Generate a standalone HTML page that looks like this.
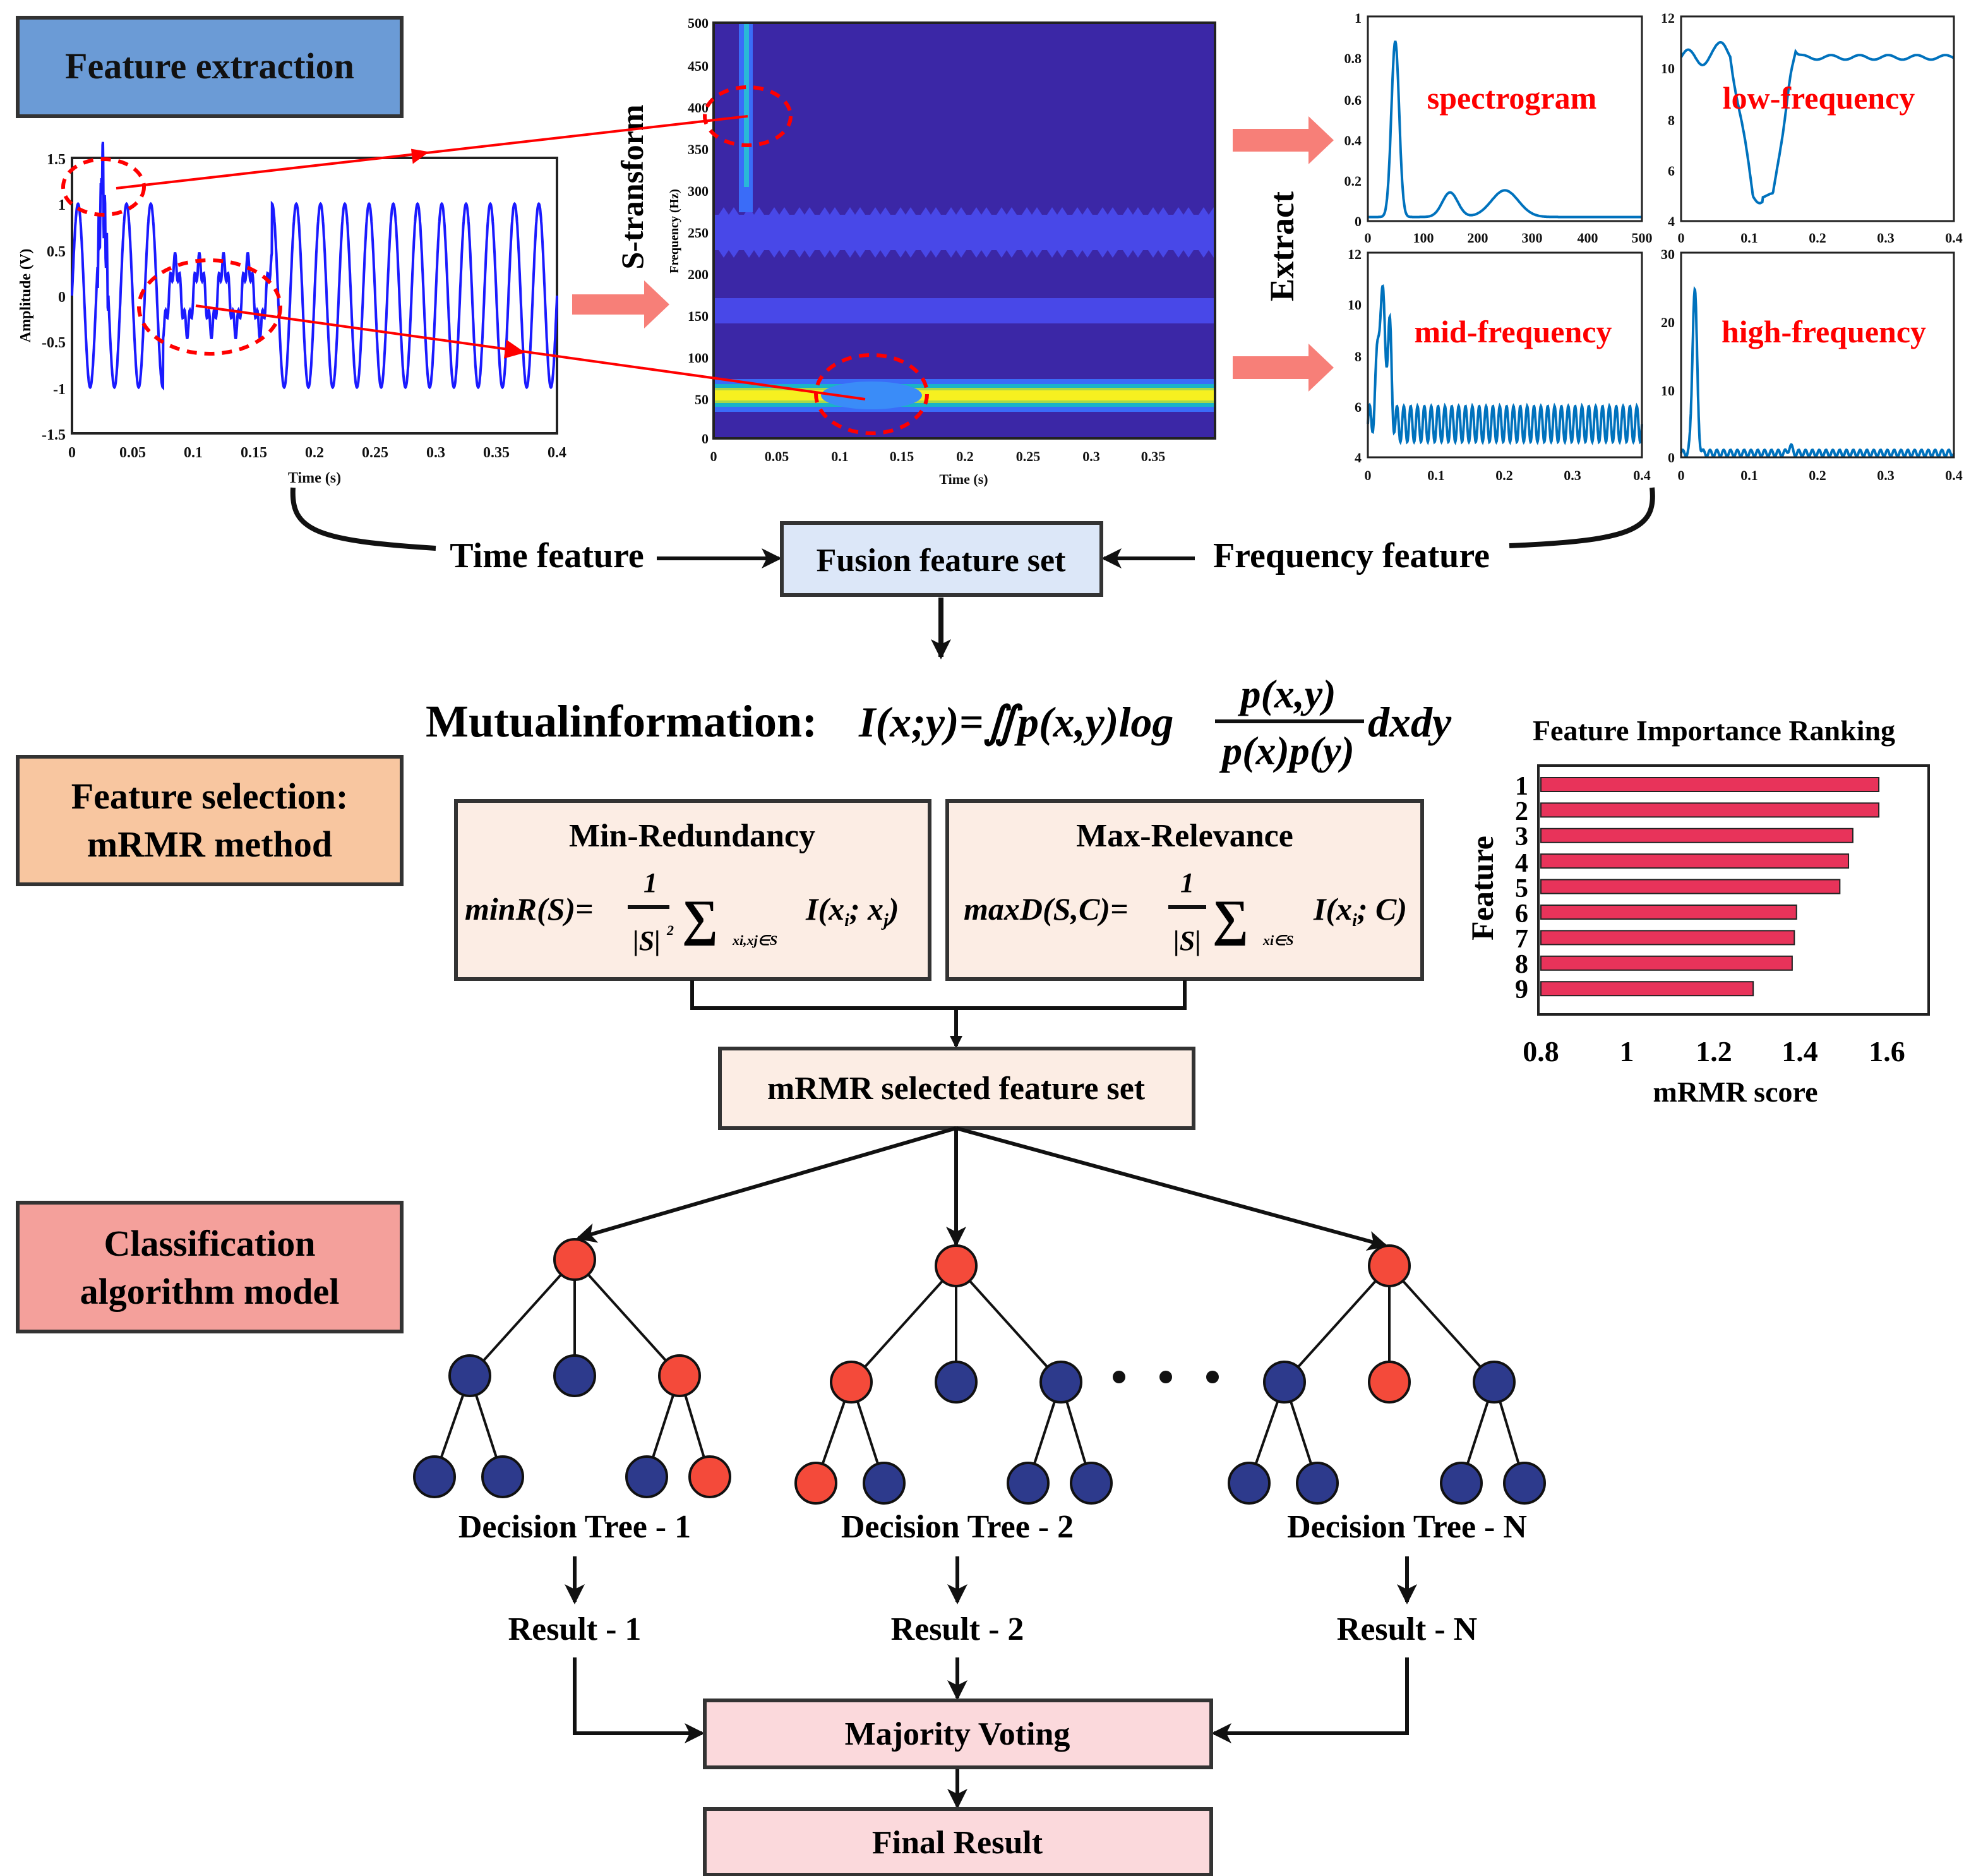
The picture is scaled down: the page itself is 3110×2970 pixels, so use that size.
<!DOCTYPE html>
<html><head><meta charset="utf-8"><style>
html,body{margin:0;padding:0;background:#fff}
svg{display:block}
text{font-family:"Liberation Serif",serif}
.b{font-weight:bold}
</style></head><body>
<svg id="s" width="3110" height="2970" viewBox="0 0 1555 1485" xmlns="http://www.w3.org/2000/svg" font-family="Liberation Serif, serif">
<defs>
<marker id="ah" markerWidth="10" markerHeight="10" refX="8" refY="5" orient="auto" markerUnits="userSpaceOnUse"><path d="M0,0 L10,5 L0,10 z" fill="#111"/></marker>
<marker id="ahb" markerWidth="18" markerHeight="16" refX="14" refY="8" orient="auto" markerUnits="userSpaceOnUse"><path d="M0,0 L16,8 L0,16 L4,8 z" fill="#111"/></marker>
</defs>
<rect width="1555" height="1485" fill="#fff"/>

<rect x="14" y="14" width="304" height="78" fill="#6b9bd6" stroke="#333" stroke-width="3"/>
<text x="166" y="62" text-anchor="middle" font-size="29" class="b" fill="#111">Feature extraction</text>

<rect x="57" y="125" width="384" height="218" fill="#fff" stroke="#222" stroke-width="2"/>
<path id="sig" d="" fill="none" stroke="#1a1aff" stroke-width="2"/>
<g font-size="12" class="b" text-anchor="end" fill="#111">
<text x="52" y="130">1.5</text><text x="52" y="166">1</text><text x="52" y="203">0.5</text><text x="52" y="239">0</text><text x="52" y="275">-0.5</text><text x="52" y="312">-1</text><text x="52" y="348">-1.5</text>
</g>
<g font-size="12" class="b" text-anchor="middle" fill="#111">
<text x="57" y="362">0</text><text x="105" y="362">0.05</text><text x="153" y="362">0.1</text><text x="201" y="362">0.15</text><text x="249" y="362">0.2</text><text x="297" y="362">0.25</text><text x="345" y="362">0.3</text><text x="393" y="362">0.35</text><text x="441" y="362">0.4</text>
<text x="249" y="382">Time (s)</text>
</g>
<text transform="translate(24,234) rotate(-90)" text-anchor="middle" font-size="12" class="b">Amplitude (V)</text>
<ellipse cx="82" cy="148" rx="32" ry="22" fill="none" stroke="#f00" stroke-width="3" stroke-dasharray="8,6"/>
<ellipse cx="166" cy="243" rx="56" ry="37" fill="none" stroke="#f00" stroke-width="3" stroke-dasharray="8,6"/>

<rect x="565" y="18" width="397" height="329" fill="#3b27a6"/>
<path id="band250" d="M565,165 L962,165 L962,202 L565,202 z" fill="#4848e8"/>
<path d="M565,236 L962,236 L962,256 L565,256 z" fill="#4848e8"/>
<rect x="565" y="300" width="397" height="26" fill="#3a6cf8"/>
<rect x="565" y="304" width="397" height="18" fill="#1ab3c8"/>
<rect x="565" y="307" width="397" height="12" fill="#a8d84a"/>
<rect x="565" y="309" width="397" height="8" fill="#f6f020"/>
<ellipse cx="690" cy="313" rx="40" ry="11" fill="#3a8cf8"/>
<rect x="585" y="18" width="11" height="150" fill="#3a6cf8"/>
<rect x="589" y="18" width="4" height="130" fill="#2ab8d8"/>
<rect x="565" y="18" width="397" height="329" fill="none" stroke="#222" stroke-width="2"/>
<g font-size="11" class="b" text-anchor="end" fill="#111">
<text x="561" y="22">500</text><text x="561" y="56">450</text><text x="561" y="89">400</text><text x="561" y="122">350</text><text x="561" y="155">300</text><text x="561" y="188">250</text><text x="561" y="221">200</text><text x="561" y="254">150</text><text x="561" y="287">100</text><text x="561" y="320">50</text><text x="561" y="351">0</text>
</g>
<g font-size="11" class="b" text-anchor="middle" fill="#111">
<text x="565" y="365">0</text><text x="615" y="365">0.05</text><text x="665" y="365">0.1</text><text x="714" y="365">0.15</text><text x="764" y="365">0.2</text><text x="814" y="365">0.25</text><text x="864" y="365">0.3</text><text x="913" y="365">0.35</text>
<text x="763" y="383">Time (s)</text>
</g>
<text transform="translate(537,183) rotate(-90)" text-anchor="middle" font-size="10" class="b">Frequency (Hz)</text>
<text transform="translate(509,148) rotate(-90)" text-anchor="middle" font-size="25" class="b">S-transform</text>
<ellipse cx="592" cy="92" rx="34" ry="23" fill="none" stroke="#f00" stroke-width="3" stroke-dasharray="8,6"/>
<ellipse cx="690" cy="312" rx="44" ry="31" fill="none" stroke="#f00" stroke-width="3" stroke-dasharray="8,6"/>
<line x1="92" y1="149" x2="592" y2="92" stroke="#f00" stroke-width="2"/>
<path d="M326,117 L340,121 L326,129 z" fill="#f00" transform="rotate(-6.5 333 122)"/>
<line x1="155" y1="242" x2="685" y2="316" stroke="#f00" stroke-width="2"/>
<path d="M400,270 L416,278 L400,285 z" fill="#f00" transform="rotate(8 408 277)"/>

<path d="M453,233 L510,233 L510,222 L530,241 L510,260 L510,249 L453,249 z" fill="#f77f78"/>
<path d="M976,102 L1036,102 L1036,92 L1056,111 L1036,130 L1036,120 L976,120 z" fill="#f77f78"/>
<path d="M976,282 L1036,282 L1036,272 L1056,291 L1036,310 L1036,300 L976,300 z" fill="#f77f78"/>
<text transform="translate(1024,195) rotate(-90)" text-anchor="middle" font-size="27" class="b">Extract</text>

<g id="sp" fill="none" stroke="#0072bd" stroke-width="2"></g>
<g stroke="#222" stroke-width="1.5" fill="none">
<rect x="1083" y="13" width="217" height="162"/><rect x="1331" y="13" width="216" height="162"/>
<rect x="1083" y="200" width="217" height="162"/><rect x="1331" y="200" width="216" height="162"/>
</g>
<g font-size="11" class="b" fill="#111">
<g text-anchor="end">
<text x="1078" y="18">1</text><text x="1078" y="50">0.8</text><text x="1078" y="83">0.6</text><text x="1078" y="115">0.4</text><text x="1078" y="147">0.2</text><text x="1078" y="179">0</text>
<text x="1326" y="18">12</text><text x="1326" y="58">10</text><text x="1326" y="99">8</text><text x="1326" y="139">6</text><text x="1326" y="179">4</text>
<text x="1078" y="205">12</text><text x="1078" y="245">10</text><text x="1078" y="286">8</text><text x="1078" y="326">6</text><text x="1078" y="366">4</text>
<text x="1326" y="205">30</text><text x="1326" y="259">20</text><text x="1326" y="313">10</text><text x="1326" y="366">0</text>
</g>
<g text-anchor="middle">
<text x="1083" y="192">0</text><text x="1127" y="192">100</text><text x="1170" y="192">200</text><text x="1213" y="192">300</text><text x="1257" y="192">400</text><text x="1300" y="192">500</text>
<text x="1331" y="192">0</text><text x="1385" y="192">0.1</text><text x="1439" y="192">0.2</text><text x="1493" y="192">0.3</text><text x="1547" y="192">0.4</text>
<text x="1083" y="380">0</text><text x="1137" y="380">0.1</text><text x="1191" y="380">0.2</text><text x="1245" y="380">0.3</text><text x="1300" y="380">0.4</text>
<text x="1331" y="380">0</text><text x="1385" y="380">0.1</text><text x="1439" y="380">0.2</text><text x="1493" y="380">0.3</text><text x="1547" y="380">0.4</text>
</g>
</g>
<g font-size="25" class="b" fill="#f00" text-anchor="middle">
<text x="1197" y="86">spectrogram</text><text x="1440" y="86">low-frequency</text>
<text x="1198" y="271">mid-frequency</text><text x="1444" y="271">high-frequency</text>
</g>

<path d="M232,386 C230,420 250,428 345,434" fill="none" stroke="#111" stroke-width="4"/>
<path d="M1308,386 C1312,420 1290,428 1195,432" fill="none" stroke="#111" stroke-width="4"/>
<text x="433" y="449" text-anchor="middle" font-size="28" class="b">Time feature</text>
<text x="1070" y="449" text-anchor="middle" font-size="28" class="b">Frequency feature</text>
<line x1="520" y1="442" x2="617" y2="442" stroke="#111" stroke-width="3" marker-end="url(#ahb)"/>
<line x1="946" y1="442" x2="874" y2="442" stroke="#111" stroke-width="3" marker-end="url(#ahb)"/>
<rect x="619" y="414" width="253" height="57" fill="#dce7f8" stroke="#333" stroke-width="3"/>
<text x="745" y="452" text-anchor="middle" font-size="26" class="b">Fusion feature set</text>
<line x1="745" y1="473" x2="745" y2="520" stroke="#111" stroke-width="4" marker-end="url(#ahb)"/>

<text x="337" y="583" font-size="36" class="b">Mutualinformation:</text>
<text x="680" y="583" font-size="34" class="b" font-style="italic">I(x;y)=∬p(x,y)log</text>
<text x="1020" y="560" font-size="32" class="b" font-style="italic" text-anchor="middle">p(x,y)</text>
<line x1="962" y1="571" x2="1080" y2="571" stroke="#111" stroke-width="3"/>
<text x="1020" y="605" font-size="32" class="b" font-style="italic" text-anchor="middle">p(x)p(y)</text>
<text x="1083" y="583" font-size="34" class="b" font-style="italic">dxdy</text>

<rect x="14" y="599" width="304" height="101" fill="#f8c6a0" stroke="#333" stroke-width="3"/>
<text x="166" y="640" text-anchor="middle" font-size="29" class="b">Feature selection:</text>
<text x="166" y="678" text-anchor="middle" font-size="29" class="b">mRMR method</text>

<rect x="361" y="634" width="375" height="141" fill="#fcede4" stroke="#333" stroke-width="3"/>
<rect x="750" y="634" width="376" height="141" fill="#fcede4" stroke="#333" stroke-width="3"/>
<text x="548" y="670" text-anchor="middle" font-size="26" class="b">Min-Redundancy</text>
<text x="938" y="670" text-anchor="middle" font-size="26" class="b">Max-Relevance</text>
<g font-style="italic" class="b">
<text x="368" y="728" font-size="25">minR(S)=</text>
<text x="515" y="706" font-size="22" text-anchor="middle">1</text>
<line x1="497" y1="718" x2="530" y2="718" stroke="#111" stroke-width="3"/>
<text x="512" y="752" font-size="22" text-anchor="middle">|S|</text><text x="528" y="740" font-size="11">2</text>
<text x="540" y="740" font-size="40" font-style="normal">∑</text>
<text x="580" y="748" font-size="11">xi,xj∈S</text>
<text x="638" y="728" font-size="25">I(x<tspan font-size="14" dy="5">i</tspan><tspan dy="-5">; x</tspan><tspan font-size="14" dy="5">j</tspan><tspan dy="-5">)</tspan></text>
<text x="763" y="728" font-size="25">maxD(S,C)=</text>
<text x="940" y="706" font-size="22" text-anchor="middle">1</text>
<line x1="925" y1="718" x2="955" y2="718" stroke="#111" stroke-width="3"/>
<text x="940" y="752" font-size="22" text-anchor="middle">|S|</text>
<text x="960" y="740" font-size="40" font-style="normal">∑</text>
<text x="1000" y="748" font-size="11">xi∈S</text>
<text x="1040" y="728" font-size="25">I(x<tspan font-size="14" dy="5">i</tspan><tspan dy="-5">; C)</tspan></text>
</g>
<path d="M548,776 L548,798 L938,798 L938,776" fill="none" stroke="#111" stroke-width="3"/>
<line x1="757" y1="798" x2="757" y2="828" stroke="#111" stroke-width="3" marker-end="url(#ah)"/>

<text x="1357" y="586" text-anchor="middle" font-size="23" class="b">Feature Importance Ranking</text>
<rect x="1218" y="606" width="309" height="197" fill="#fff" stroke="#222" stroke-width="2"/>
<g id="bars" fill="#e8335a" stroke="#222" stroke-width="1"></g>
<g font-size="21" class="b" text-anchor="end">
<text x="1210" y="629">1</text><text x="1210" y="649">2</text><text x="1210" y="669">3</text><text x="1210" y="690">4</text><text x="1210" y="710">5</text><text x="1210" y="730">6</text><text x="1210" y="750">7</text><text x="1210" y="770">8</text><text x="1210" y="790">9</text>
</g>
<g font-size="23" class="b" text-anchor="middle">
<text x="1220" y="840">0.8</text><text x="1288" y="840">1</text><text x="1357" y="840">1.2</text><text x="1425" y="840">1.4</text><text x="1494" y="840">1.6</text>
<text x="1374" y="872">mRMR score</text>
</g>
<text transform="translate(1182,703) rotate(-90)" text-anchor="middle" font-size="25" class="b">Feature</text>

<rect x="570" y="830" width="375" height="63" fill="#fcede4" stroke="#333" stroke-width="3"/>
<text x="757" y="870" text-anchor="middle" font-size="26" class="b">mRMR selected feature set</text>

<rect x="14" y="952" width="304" height="102" fill="#f4a09b" stroke="#333" stroke-width="3"/>
<text x="166" y="994" text-anchor="middle" font-size="29" class="b">Classification</text>
<text x="166" y="1032" text-anchor="middle" font-size="29" class="b">algorithm model</text>

<g stroke="#111" stroke-width="3">
<line x1="757" y1="893" x2="458" y2="980" marker-end="url(#ahb)"/>
<line x1="757" y1="893" x2="757" y2="985" marker-end="url(#ahb)"/>
<line x1="757" y1="893" x2="1097" y2="986" marker-end="url(#ahb)"/>
</g>
<g id="trees" stroke="#111" stroke-width="2"></g>
<circle cx="886" cy="1090" r="5" fill="#111"/><circle cx="923" cy="1090" r="5" fill="#111"/><circle cx="960" cy="1090" r="5" fill="#111"/>

<g font-size="26" class="b" text-anchor="middle">
<text x="455" y="1217">Decision Tree - 1</text><text x="758" y="1217">Decision Tree - 2</text><text x="1114" y="1217">Decision Tree - N</text>
<text x="455" y="1298">Result - 1</text><text x="758" y="1298">Result - 2</text><text x="1114" y="1298">Result - N</text>
</g>
<g stroke="#111" stroke-width="3" fill="none">
<line x1="455" y1="1232" x2="455" y2="1268" marker-end="url(#ahb)"/>
<line x1="758" y1="1232" x2="758" y2="1268" marker-end="url(#ahb)"/>
<line x1="1114" y1="1232" x2="1114" y2="1268" marker-end="url(#ahb)"/>
<path d="M455,1312 L455,1372 L556,1372" marker-end="url(#ahb)"/>
<path d="M1114,1312 L1114,1372 L961,1372" marker-end="url(#ahb)"/>
<line x1="758" y1="1312" x2="758" y2="1344" marker-end="url(#ahb)"/>
<line x1="758" y1="1400" x2="758" y2="1430" marker-end="url(#ahb)"/>
</g>
<rect x="558" y="1346" width="401" height="53" fill="#fbd9dc" stroke="#333" stroke-width="3"/>
<text x="758" y="1381" text-anchor="middle" font-size="26" class="b">Majority Voting</text>
<rect x="558" y="1432" width="401" height="52" fill="#fbd9dc" stroke="#333" stroke-width="3"/>
<text x="758" y="1467" text-anchor="middle" font-size="26" class="b">Final Result</text>
</svg>
<script>
(function(){
var NS="http://www.w3.org/2000/svg";
var d="";
for(var i=0;i<=1600;i++){var t=i/4000,v;
 if(t>0.075&&t<0.165){v=0.35*Math.sin(2*Math.PI*50*t)+0.12*Math.sin(2*Math.PI*250*t);}
 else v=Math.sin(2*Math.PI*50*t);
 if(t>0.021&&t<0.03) v+= (t>0.024&&t<0.026?0.4:0)+0.3*Math.sin(2*Math.PI*600*t);
 var x=57+t*960,y=234-v*72.7;d+=(i?"L":"M")+x.toFixed(1)+","+y.toFixed(1);}
document.getElementById("sig").setAttribute("d",d);
// zigzag 250 band
var top="",bot="";for(var x=565;x<=962;x+=4){var z=((x-565)%10<5)?0:1;var yt=170-z*6,yb=198+z*6;top+=(x==565?"M":"L")+x+","+yt;bot="L"+x+","+yb+bot;}
document.getElementById("band250").setAttribute("d",top+bot+"z");
var sp=document.getElementById("sp");
function add(fn,x0,x1,yb,yt,n){var p="";for(var i=0;i<=n;i++){var u=i/n,v=fn(u);p+=(i?"L":"M")+(x0+u*(x1-x0)).toFixed(1)+","+(yb-v*(yb-yt)).toFixed(1);}var e=document.createElementNS(NS,"path");e.setAttribute("d",p);sp.appendChild(e);}
function g(u,c,w){return Math.exp(-Math.pow((u-c)/w,2));}
add(function(u){return 0.86*g(u,0.1,0.02)+0.12*g(u,0.3,0.04)+0.13*g(u,0.5,0.07)+0.02;},1083,1300,175,13,400);
add(function(u){var b=10.4+0.3*Math.sin(u*60)*(u<0.3?1:0.3)+0.5*g(u,0.16,0.03)+0.6*g(u,0.4,0.02);b-=5.4*(u>0.18&&u<0.42?Math.min(1,Math.min(u-0.18,0.42-u)*12):0);return (b-4)/8;},1331,1547,175,13,400);
add(function(u){var b=5.3+0.7*Math.sin(u*2*Math.PI*40);if(u<0.1)b+=5*g(u,0.05,0.02)+3*g(u,0.08,0.01);return (b-4)/8;},1083,1300,362,200,900);
add(function(u){var b=0.6+0.5*Math.sin(u*2*Math.PI*40)+24*g(u,0.05,0.012)+1*g(u,0.4,0.01);return b/30;},1331,1547,362,200,900);
var vals=[1.58,1.58,1.52,1.51,1.49,1.39,1.385,1.38,1.29],bars=document.getElementById("bars");
for(var k=0;k<9;k++){var r=document.createElementNS(NS,"rect");r.setAttribute("x",1220);r.setAttribute("y",615.5+k*20.2);r.setAttribute("width",(vals[k]-0.8)*343);r.setAttribute("height",11);bars.appendChild(r);}
var T=document.getElementById("trees"),R="#f44a3a",B="#2d3a8c";
function ln(a,b){var l=document.createElementNS(NS,"line");l.setAttribute("x1",a[0]);l.setAttribute("y1",a[1]);l.setAttribute("x2",b[0]);l.setAttribute("y2",b[1]);T.appendChild(l);}
function c(p,f){var e=document.createElementNS(NS,"circle");e.setAttribute("cx",p[0]);e.setAttribute("cy",p[1]);e.setAttribute("r",16);e.setAttribute("fill",f);T.appendChild(e);}
function tree(rx,ry,cols,gcols){var root=[rx,ry],ch=[[rx-83,ry+92],[rx,ry+92],[rx+83,ry+92]];
 var gc=[[rx-111,ry+172],[rx-57,ry+172],[rx+57,ry+172],[rx+107,ry+172]];
 ch.forEach(function(p){ln(root,p)});ln(ch[0],gc[0]);ln(ch[0],gc[1]);ln(ch[2],gc[2]);ln(ch[2],gc[3]);
 c(root,R);ch.forEach(function(p,i){c(p,cols[i])});gc.forEach(function(p,i){c(p,gcols[i])});}
tree(455,997,[B,B,R],[B,B,B,R]);
tree(757,1002,[R,B,B],[R,B,B,B]);
tree(1100,1002,[B,R,B],[B,B,B,B]);
})();
</script>
</body></html>
